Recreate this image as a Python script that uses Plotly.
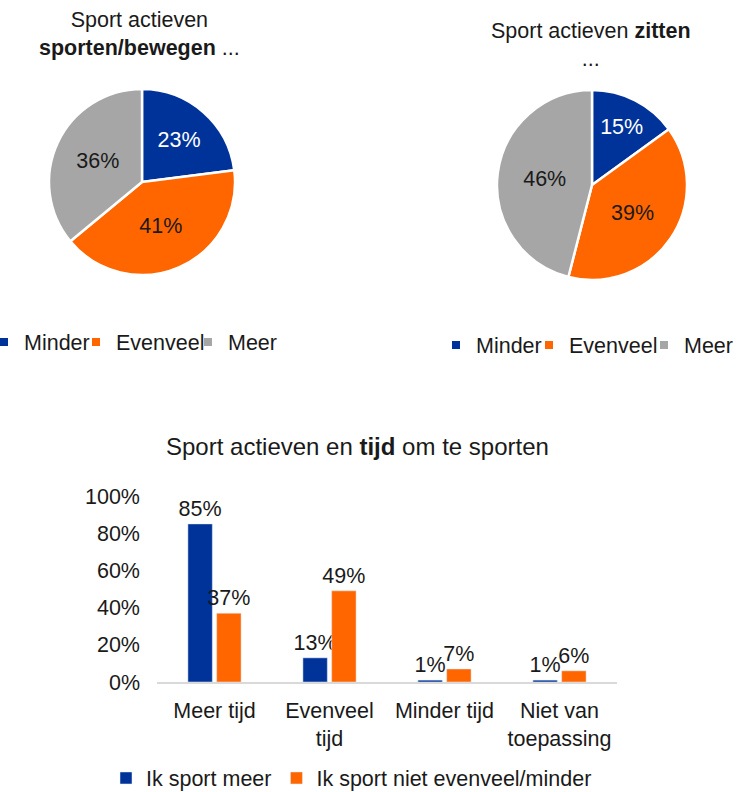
import plotly.graph_objects as go

# ---- data ----
pie_labels = ["Minder", "Evenveel", "Meer"]
pie1_values = [23, 41, 36]
pie2_values = [15, 39, 46]

bar_categories = ["Meer tijd", "Evenveel<br>tijd", "Minder tijd", "Niet van<br>toepassing"]
bar_series_names = ["Ik sport meer", "Ik sport niet evenveel/minder"]
bar_meer = [85, 13, 1, 1]
bar_niet = [37, 49, 7, 6]
y_ticks = [0, 20, 40, 60, 80, 100]
y_ticklabels = ["0%", "20%", "40%", "60%", "80%", "100%"]

# ---- style ----
W, H = 737, 792
FONT = "Liberation Sans, Arial, sans-serif"
FS = 21.5
FS_TITLE = 24
BLUE = "#003399"
ORANGE = "#ff6600"
GRAY = "#a6a6a6"
TXT = "#1a1a1a"
pie_colors = [BLUE, ORANGE, GRAY]


def px_dom_x(a, b):
    return [a / W, b / W]


def px_dom_y(top, bottom):
    return [1 - bottom / H, 1 - top / H]


fig = go.Figure()

pie_common = dict(
    labels=pie_labels,
    sort=False,
    direction="clockwise",
    rotation=0,
    marker=dict(colors=pie_colors, line=dict(color="white", width=2.5)),
    texttemplate="%{value}%",
    textposition="inside",
    insidetextorientation="horizontal",
    insidetextfont=dict(color=["white", TXT, TXT], size=FS, family=FONT),
    hoverinfo="label+percent",
    showlegend=False,
)

fig.add_trace(go.Pie(values=pie1_values,
                     domain=dict(x=px_dom_x(49, 235), y=px_dom_y(89, 275)),
                     **pie_common))
fig.add_trace(go.Pie(values=pie2_values,
                     domain=dict(x=px_dom_x(497, 687), y=px_dom_y(90, 280)),
                     **pie_common))

bar_common = dict(texttemplate="%{y}%", textposition="outside",
                  textfont=dict(size=FS, color=TXT, family=FONT),
                  cliponaxis=False, constraintext="none", legend="legend")
fig.add_trace(go.Bar(x=bar_categories, y=bar_meer, name=bar_series_names[0],
                     marker_color=BLUE, **bar_common))
fig.add_trace(go.Bar(x=bar_categories, y=bar_niet, name=bar_series_names[1],
                     marker_color=ORANGE, **bar_common))

legend_common = dict(orientation="h", bgcolor="rgba(0,0,0,0)", borderwidth=0,
                     font=dict(size=FS, color=TXT, family=FONT),
                     xanchor="left", yanchor="middle", itemclick=False,
                     itemdoubleclick=False)

# legend entries for the two pies: one small legend per slice label
pie_legend_text_x = [[24, 116, 228], [476, 569, 684]]
pie_legend_y = [342, 345]
legends = {}
k = 2
for p in range(2):
    for i, lab in enumerate(pie_labels):
        name = f"legend{k}"
        fig.add_trace(go.Scatter(x=[None], y=[None], mode="markers", name=lab,
                                 marker=dict(symbol="square", size=8,
                                             color=pie_colors[i]),
                                 xaxis="x2", yaxis="y2", legend=name,
                                 hoverinfo="skip"))
        legends[name] = dict(x=(pie_legend_text_x[p][i] - 40) / W,
                             y=1 - pie_legend_y[p] / H, **legend_common)
        k += 1

fig.update_layout(
    width=W, height=H,
    margin=dict(l=0, r=0, t=0, b=0, autoexpand=False),
    paper_bgcolor="white", plot_bgcolor="white",
    font=dict(family=FONT, size=FS, color=TXT),
    barmode="group", bargap=0.5, bargroupgap=0.15,
    xaxis=dict(domain=px_dom_x(157, 617), showgrid=False, zeroline=False,
               showline=True, linecolor="#d9d9d9", linewidth=2,
               ticks="", ticklabelstandoff=8,
               tickfont=dict(size=FS, color=TXT, family=FONT)),
    yaxis=dict(domain=px_dom_y(496, 682), range=[0, 100], showgrid=False,
               zeroline=False, showline=False, tickvals=y_ticks,
               ticktext=y_ticklabels, ticks="", ticklabelstandoff=16,
               tickfont=dict(size=FS, color=TXT, family=FONT)),
    xaxis2=dict(visible=False, domain=[0, 0.01], anchor="y2"),
    yaxis2=dict(visible=False, domain=[0, 0.01], anchor="x2"),
    legend=dict(x=106 / W, y=1 - 778 / H, **legend_common),
    showlegend=True,
    **legends,
)

ann_common = dict(xref="paper", yref="paper", showarrow=False,
                  font=dict(size=FS, color=TXT, family=FONT),
                  xanchor="center", yanchor="middle")
fig.add_annotation(x=139 / W, y=1 - 34 / H,
                   text="Sport actieven<br><b>sporten/bewegen</b> ...", **ann_common)
fig.add_annotation(x=591 / W, y=1 - 45 / H,
                   text="Sport actieven <b>zitten</b><br>...", **ann_common)
fig.add_annotation(x=357 / W, y=1 - 446 / H,
                   text="Sport actieven en <b>tijd</b> om te sporten",
                   **{**ann_common, "font": dict(size=FS_TITLE, color=TXT, family=FONT)})

fig.write_html("out.html", config={"displayModeBar": False},
               post_script="document.body.style.margin='0';")
